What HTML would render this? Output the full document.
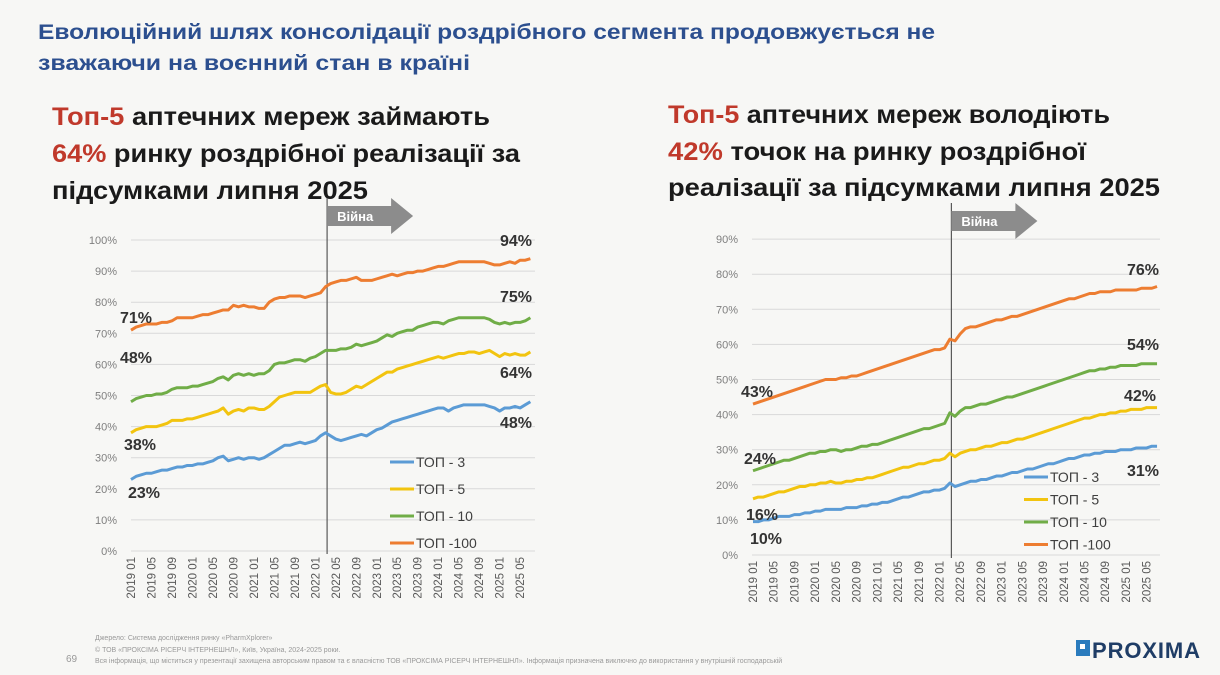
<!DOCTYPE html>
<html><head><meta charset="utf-8"><style>
body{margin:0;background:#f7f7f5;}
svg{display:block;font-family:"Liberation Sans","DejaVu Sans",sans-serif;}
</style></head><body>
<svg id="s" width="1220" height="675" viewBox="0 0 1220 675">
<rect width="1220" height="675" fill="#f7f7f5"/>
<text x="38" y="39" font-size="21" font-weight="bold" fill="#2c4f8f" textLength="897" lengthAdjust="spacingAndGlyphs">Еволюційний шлях консолідації роздрібного сегмента продовжується не</text>
<text x="38" y="70" font-size="21" font-weight="bold" fill="#2c4f8f" textLength="432" lengthAdjust="spacingAndGlyphs">зважаючи на воєнний стан в країні</text>
<g font-size="25" font-weight="bold" fill="#1a1a1a">
<text x="52" y="125" textLength="438" lengthAdjust="spacingAndGlyphs"><tspan fill="#c0392b">Топ-5</tspan> аптечних мереж займають</text>
<text x="52" y="162" textLength="468" lengthAdjust="spacingAndGlyphs"><tspan fill="#c0392b">64%</tspan> ринку роздрібної реалізації за</text>
<text x="52" y="199" textLength="316" lengthAdjust="spacingAndGlyphs">підсумками липня 2025</text>
</g>
<g font-size="25" font-weight="bold" fill="#1a1a1a">
<text x="668" y="123" textLength="442" lengthAdjust="spacingAndGlyphs"><tspan fill="#c0392b">Топ-5</tspan> аптечних мереж володіють</text>
<text x="668" y="160" textLength="418" lengthAdjust="spacingAndGlyphs"><tspan fill="#c0392b">42%</tspan> точок на ринку роздрібної</text>
<text x="668" y="196" textLength="492" lengthAdjust="spacingAndGlyphs">реалізації за підсумками липня 2025</text>
</g>
<g id="left"></g>
<g id="right"></g>
<g font-size="7" fill="#999">
<text x="95" y="640">Джерело: Система дослідження ринку «PharmXplorer»</text>
<text x="95" y="652">© ТОВ «ПРОКСІМА РІСЕРЧ ІНТЕРНЕШНЛ», Київ, Україна, 2024-2025 роки.</text>
<text x="95" y="663">Вся інформація, що міститься у презентації захищена авторським правом та є власністю ТОВ «ПРОКСІМА РІСЕРЧ ІНТЕРНЕШНЛ». Інформація призначена виключно до використання у внутрішній господарській</text>
<text x="66" y="662" font-size="10">69</text>
</g>
<g>
<rect x="1076" y="640" width="14" height="16" fill="#2a7bbd"/><rect x="1080" y="644" width="5" height="5" fill="#fff"/>
<text x="1092" y="658" font-size="22" font-weight="bold" fill="#1f3d66" textLength="108">PROXIMA</text>
</g>
</svg>
<script>
const months=79;
const tickLabels=["2019 01","2019 05","2019 09","2020 01","2020 05","2020 09","2021 01","2021 05","2021 09","2022 01","2022 05","2022 09","2023 01","2023 05","2023 09","2024 01","2024 05","2024 09","2025 01","2025 05"];
const seriesNames=["ТОП - 3","ТОП - 5","ТОП - 10","ТОП -100"];
const colors=["#5b9bd5","#f2c40f","#70ad47","#ed7d31"];
const warIndex=38.3;
const L100=[71,72,72.5,73,73,73,73.5,73.5,74,75,75,75, 75,75.5,76,76,76.5,77,77.5,77.5,79,78.5,79,78.5, 78.5,78,78,80,81,81.5,81.5,82,82,82,81.5,82, 82.5,83,85,86,86.5,87,87,87.5,88,87,87,87, 87.5,88,88.5,89,88.5,89,89.5,89.5,90,90,90.5,91, 91.5,91.5,92,92.5,93,93,93,93,93,93,92.5,92, 92,92.5,93,92.5,93.5,93.5,94];
const L10=[48,49,49.5,50,50,50.5,50.5,51,52,52.5,52.5,52.5, 53,53,53.5,54,54.5,55.5,56,55,56.5,57,56.5,57, 56.5,57,57,58,60,60.5,60.5,61,61.5,61.5,61,62, 62.5,63.5,64.5,64.5,64.5,65,65,65.5,66.5,66,66.5,67, 67.5,68.5,69.5,69,70,70.5,71,71,72,72.5,73,73.5, 73.5,73,74,74.5,75,75,75,75,75,75,74.5,73.5, 73,73.5,73,73.5,73.5,74,75];
const L5=[38,39,39.5,40,40,40,40.5,41,42,42,42,42.5, 42.5,43,43.5,44,44.5,45,46,44,45,45.5,45,46, 46,45.5,45.5,46.5,48,49.5,50,50.5,51,51,51,51, 52,53,53.5,51,50.5,50.5,51,52,53,52.5,53.5,54.5, 55.5,56.5,57.5,57.5,58.5,59,59.5,60,60.5,61,61.5,62, 62.5,62,62.5,63,63.5,63.5,64,64,63.5,64,64.5,63.5, 62.5,63.5,63,63.5,63,63,64];
const L3=[23,24,24.5,25,25,25.5,26,26,26.5,27,27,27.5, 27.5,28,28,28.5,29,30,30.5,29,29.5,30,29.5,30, 30,29.5,30,31,32,33,34,34,34.5,35,34.5,35, 35.5,37,38,37,36,35.5,36,36.5,37,37.5,37,38, 39,39.5,40.5,41.5,42,42.5,43,43.5,44,44.5,45,45.5, 46,46,45,46,46.5,47,47,47,47,47,46.5,46, 45,46,46,46.5,46,47,48];
const R100=[43,43.5,44,44.5,45,45.5,46,46.5,47,47.5,48,48.5, 49,49.5,50,50,50,50.5,50.5,51,51,51.5,52,52.5, 53,53.5,54,54.5,55,55.5,56,56.5,57,57.5,58,58.5, 58.5,59,61.5,61,63,64.5,65,65,65.5,66,66.5,67, 67,67.5,68,68,68.5,69,69.5,70,70.5,71,71.5,72, 72.5,73,73,73.5,74,74.5,74.5,75,75,75,75.5,75.5, 75.5,75.5,75.5,76,76,76,76.5];
const R10=[24,24.5,25,25.5,26,26.5,27,27,27.5,28,28.5,29, 29,29.5,29.5,30,30,29.5,30,30,30.5,31,31,31.5, 31.5,32,32.5,33,33.5,34,34.5,35,35.5,36,36,36.5, 37,37.5,40.5,39.5,41,42,42,42.5,43,43,43.5,44, 44.5,45,45,45.5,46,46.5,47,47.5,48,48.5,49,49.5, 50,50.5,51,51.5,52,52.5,52.5,53,53,53.5,53.5,54, 54,54,54,54.5,54.5,54.5,54.5];
const R5=[16,16.5,16.5,17,17.5,18,18,18.5,19,19.5,19.5,20, 20,20.5,20.5,21,20.5,20.5,21,21,21.5,21.5,22,22, 22.5,23,23.5,24,24.5,25,25,25.5,26,26,26.5,27, 27,27.5,29,28,29,29.5,30,30,30.5,31,31,31.5, 32,32,32.5,33,33,33.5,34,34.5,35,35.5,36,36.5, 37,37.5,38,38.5,39,39,39.5,40,40,40.5,40.5,41, 41,41.5,41.5,41.5,42,42,42];
const R3=[9.5,9.5,10,10,10.5,11,11,11,11.5,11.5,12,12, 12.5,12.5,13,13,13,13,13.5,13.5,13.5,14,14,14.5, 14.5,15,15,15.5,16,16.5,16.5,17,17.5,18,18,18.5, 18.5,19,20.5,19.5,20,20.5,21,21,21.5,21.5,22,22.5, 22.5,23,23.5,23.5,24,24.5,24.5,25,25.5,26,26,26.5, 27,27.5,27.5,28,28.5,28.5,29,29,29.5,29.5,29.5,30, 30,30,30.5,30.5,30.5,31,31];
const leftTicks=[0,10,20,30,40,50,60,70,80,90,100];
const rightTicks=[0,10,20,30,40,50,60,70,80,90];
const leftStart=["23%","38%","48%","71%"],leftEnd=["48%","64%","75%","94%"];
const rightStart=["10%","16%","24%","43%"],rightEnd=["31%","42%","54%","76%"];

const NS="http://www.w3.org/2000/svg";
function mk(p,t,a){const e=document.createElementNS(NS,t);for(const k in a)e.setAttribute(k,a[k]);p.appendChild(e);return e;}
function chart(g,cfg){
  const x=i=>cfg.x0+i*cfg.dx, y=v=>cfg.y0-v*cfg.dy;
  cfg.ticks.forEach(t=>{
    const l=mk(g,'line',{x1:cfg.gx0,x2:cfg.gx1,y1:y(t),y2:y(t),stroke:'#d9d9d9','stroke-width':1});
    
    
    const tx=mk(g,'text',{x:cfg.gx0-14,y:y(t)+4,'text-anchor':'end','font-size':11,fill:'#7f7f7f'});tx.textContent=t+'%';
    
    
  });
  tickLabels.forEach((s,k)=>{
    const xx=x(k*4);
    const tx=mk(g,'text',{x:0,y:0,transform:`translate(${xx+4},${cfg.y0+6}) rotate(-90)`,'text-anchor':'end','font-size':11.5,fill:'#595959'});tx.textContent=s;
    
    
  });
  const wx=x(warIndex);
  const wl=mk(g,'line',{x1:wx,x2:wx,y1:cfg.arrowY,y2:cfg.y0+3,stroke:'#595959','stroke-width':1.2});
  
  
  const a=cfg.arrowY, w=cfg.arrowW;
  const ar=mk(g,'path',{d:`M${wx},${a+8} L${wx+w-22},${a+8} L${wx+w-22},${a} L${wx+w},${a+18} L${wx+w-22},${a+36} L${wx+w-22},${a+28} L${wx},${a+28}Z`,fill:'#8c8c8c'});
  
  
  const at=mk(g,'text',{x:wx+10,y:a+23,'font-size':13,'font-weight':'bold',fill:'#fff'});at.textContent='Війна';
  
  
  cfg.series.forEach((d,si)=>{
    const p=mk(g,'polyline',{points:d.map((v,i)=>x(i)+','+y(v)).join(' '),fill:'none',stroke:colors[si],'stroke-width':3,'stroke-linejoin':'round'});
    
    
    const s=mk(g,'text',{x:cfg.sl[si][0],y:cfg.sl[si][1],'font-size':16,'font-weight':'bold',fill:'#333'});s.textContent=cfg.startL[si];
    
    
    const e=mk(g,'text',{x:cfg.el[si][0],y:cfg.el[si][1],'font-size':16,'font-weight':'bold',fill:'#333'});e.textContent=cfg.endL[si];
    
    
    const ly=cfg.ly0+si*cfg.lyd;
    const ll=mk(g,'line',{x1:cfg.lx,x2:cfg.lx+24,y1:ly,y2:ly,stroke:colors[si],'stroke-width':3});
    
    
    const lt=mk(g,'text',{x:cfg.lx+26,y:ly+5,'font-size':14,fill:'#404040'});lt.textContent=seriesNames[si];
    
    
  });
}
chart(document.getElementById('left'),{x0:131,dx:5.12,y0:551,dy:3.11,gx0:131,gx1:535,ticks:leftTicks,arrowY:198,arrowW:86,
 series:[L3,L5,L10,L100],startL:leftStart,endL:leftEnd,
 sl:[[128,498],[124,450],[120,363],[120,323]],el:[[500,428],[500,378],[500,302],[500,246]],
 lx:390,ly0:462,lyd:27});
chart(document.getElementById('right'),{x0:753,dx:5.18,y0:555,dy:3.51,gx0:752,gx1:1160,ticks:rightTicks,arrowY:203,arrowW:86,
 series:[R3,R5,R10,R100],startL:rightStart,endL:rightEnd,
 sl:[[750,544],[746,520],[744,464],[741,397]],el:[[1127,476],[1124,401],[1127,350],[1127,275]],
 lx:1024,ly0:477,lyd:22.5});
</script>
</body></html>
